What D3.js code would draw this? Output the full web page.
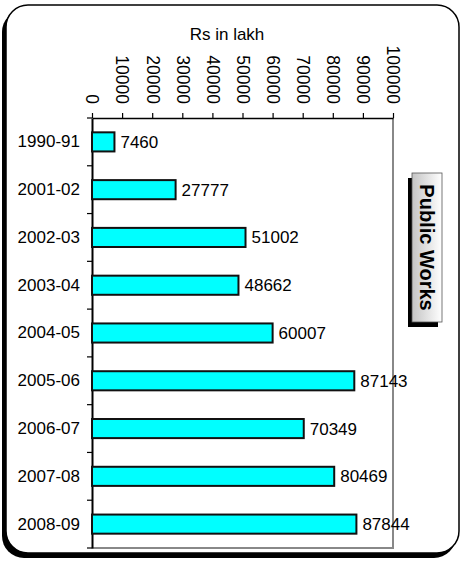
<!DOCTYPE html>
<html>
<head>
<meta charset="utf-8">
<script src="https://cdn.jsdelivr.net/npm/d3@7"></script>
<style>
  body { margin: 0; background: #fff; }
  text { font-family: "Liberation Sans", Arial, sans-serif; }
</style>
</head>
<body>
<div id="chart"></div>
<script>
// data
var years = ['1990-91', '2001-02', '2002-03', '2003-04', '2004-05', '2005-06', '2006-07', '2007-08', '2008-09'];
var amounts = [7460, 27777, 51002, 48662, 60007, 87143, 70349, 80469, 87844];
var xTicks = [0, 10000, 20000, 30000, 40000, 50000, 60000, 70000, 80000, 90000, 100000];
var axisTitle = 'Rs in lakh';
var sideLabel = 'Public Works';

// setup
var width = 466, height = 562;
var margin = {top: 118, left: 92, right: 73, bottom: 14};
var svg = d3.select('#chart').append('svg')
    .attr('width', width).attr('height', height);

// frame with shadow
svg.append('rect')
    .attr('x', 2).attr('y', 10).attr('width', 454).attr('height', 548)
    .attr('rx', 22).attr('fill', 'black');
svg.append('rect')
    .attr('x', 6).attr('y', 5).attr('width', 453).attr('height', 548)
    .attr('rx', 22).attr('fill', 'white')
    .attr('stroke', 'black').attr('stroke-width', 1.5);

var x = d3.scaleLinear().domain([0, 100000])
    .range([margin.left, width - margin.right]);
var y = d3.scaleBand().domain(years)
    .range([margin.top, height - margin.bottom]);

// plot border (gray right and bottom)
svg.append('path')
    .attr('d', 'M' + x(100000) + ',' + margin.top + 'V' + y.range()[1] + 'H' + margin.left)
    .attr('fill', 'none').attr('stroke', '#888').attr('stroke-width', 2);

// top axis
var topAxis = svg.append('g')
    .attr('transform', 'translate(0,' + margin.top + ')')
    .call(d3.axisTop(x).tickValues(xTicks).tickSize(5).tickSizeOuter(0).tickFormat(d3.format('d')));
topAxis.select('.domain').attr('stroke-width', 1.5);
topAxis.selectAll('.tick line').attr('stroke-width', 1.2);
topAxis.selectAll('.tick text')
    .attr('font-family', '"Liberation Sans", Arial, sans-serif')
    .attr('font-size', '17.5px').attr('fill', 'black')
    .attr('text-anchor', 'end')
    .attr('transform', 'translate(0,-14) rotate(90)')
    .attr('x', 0).attr('y', 0).attr('dy', '0.35em');

// title
svg.append('text')
    .attr('x', 227).attr('y', 40)
    .attr('text-anchor', 'middle')
    .attr('font-size', '17px')
    .text(axisTitle);

// left axis with ticks between categories
var leftAxis = svg.append('g')
    .attr('transform', 'translate(' + margin.left + ',0)')
    .call(d3.axisLeft(y).tickSize(0).tickPadding(12));
leftAxis.select('.domain').attr('stroke-width', 2);
leftAxis.selectAll('.tick text')
    .attr('font-family', '"Liberation Sans", Arial, sans-serif')
    .attr('font-size', '17px').attr('fill', 'black');
var bounds = years.map(function(d) { return y(d); }).concat([y.range()[1]]);
svg.selectAll('.sep').data(bounds).enter().append('line')
    .attr('x1', margin.left - 5).attr('x2', margin.left)
    .attr('y1', function(d) { return d; }).attr('y2', function(d) { return d; })
    .attr('stroke', 'black').attr('stroke-width', 1.2);

// bars
var barH = y.bandwidth() * 0.4;
var rows = svg.selectAll('.row')
    .data(years).enter().append('g');
rows.append('rect')
    .attr('x', x(0))
    .attr('y', function(d) { return y(d) + (y.bandwidth() - barH) / 2; })
    .attr('width', function(d, i) { return x(amounts[i]) - x(0); })
    .attr('height', barH)
    .attr('fill', '#00ffff')
    .attr('stroke', '#111').attr('stroke-width', 2);
rows.append('text')
    .attr('x', function(d, i) { return x(amounts[i]) + 6; })
    .attr('y', function(d) { return y(d) + y.bandwidth() / 2; })
    .attr('dy', '0.35em')
    .attr('font-size', '17px')
    .text(function(d, i) { return amounts[i]; });

// side label box
var defs = svg.append('defs');
var grad = defs.append('linearGradient').attr('id', 'boxgrad')
    .attr('x1', '0%').attr('x2', '100%').attr('y1', '0%').attr('y2', '0%');
grad.append('stop').attr('offset', '0%').attr('stop-color', '#c4c4c4');
grad.append('stop').attr('offset', '100%').attr('stop-color', '#ffffff');

svg.append('rect')
    .attr('x', 408).attr('y', 178).attr('width', 30).attr('height', 149)
    .attr('fill', 'black');
svg.append('rect')
    .attr('x', 412).attr('y', 173).attr('width', 30).attr('height', 149)
    .attr('fill', 'url(#boxgrad)').attr('stroke', '#555').attr('stroke-width', 0.8);
svg.append('text')
    .attr('transform', 'translate(427,247.5) rotate(90)')
    .attr('text-anchor', 'middle')
    .attr('dy', '0.36em')
    .attr('font-size', '20px').attr('font-weight', 'bold')
    .text(sideLabel);
</script>
</body>
</html>
